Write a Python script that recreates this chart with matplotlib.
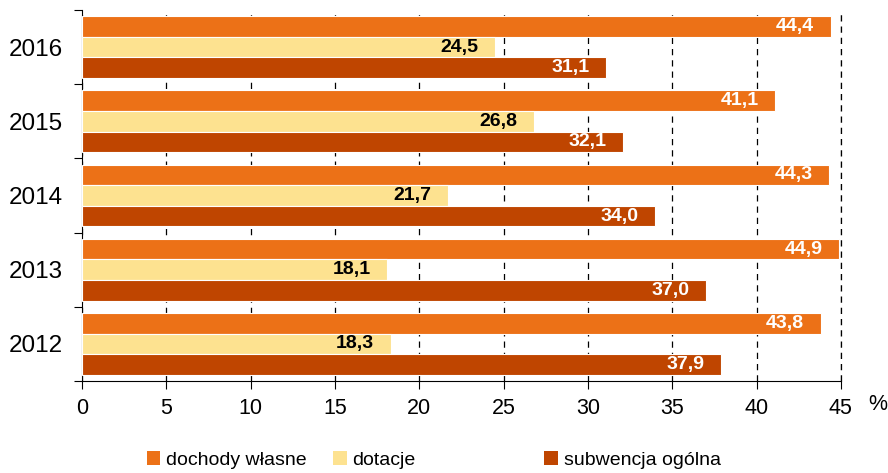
import numpy as np
import matplotlib.pyplot as plt
from matplotlib.patches import Patch

years = ['2012', '2013', '2014', '2015', '2016']
dochody = [43.8, 44.9, 44.3, 41.1, 44.4]
dotacje = [18.3, 18.1, 21.7, 26.8, 24.5]
subwencja = [37.9, 37.0, 34.0, 32.1, 31.1]
series_names = ['dochody własne', 'dotacje', 'subwencja ogólna']
colors = ['#EC7117', '#FDE290', '#BF4500']
label_colors = ['white', 'black', 'white']

plt.rcParams['font.family'] = ['Liberation Sans', 'DejaVu Sans']

fig = plt.figure(figsize=(8.88, 4.73), dpi=100)
ax = fig.add_axes([0.0923, 0.1945, 0.8547, 0.7845])

y = np.arange(len(years))
h = 0.277
offsets = [h, 0, -h]
for vals, off, col, lcol in zip([dochody, dotacje, subwencja], offsets, colors, label_colors):
    bars = ax.barh(y + off, vals, height=h, color=col, edgecolor='white', linewidth=0.8, zorder=3)
    for b, v in zip(bars, vals):
        ax.annotate(f'{v:.1f}'.replace('.', ','), (v, b.get_y() + b.get_height() / 2),
                    xytext=(-12, 0), textcoords='offset points', ha='right', va='center',
                    fontsize=14, fontweight='bold', color=lcol, zorder=4)

ax.set_xlim(0, 45)
ax.set_ylim(-0.5, 4.5)
ax.set_xticks(np.arange(0, 46, 5))
ax.tick_params(axis='x', labelsize=15.5, length=6, direction='out', width=0.8, pad=6)
ax.set_yticks(np.arange(-0.5, 5, 1))
ax.set_yticklabels([])
ax.set_yticks(y, minor=True)
ax.set_yticklabels(years, minor=True, fontsize=17.5)
ax.tick_params(axis='y', which='major', length=6, width=0.8)
ax.tick_params(axis='y', which='minor', length=0, pad=14)

ax.xaxis.grid(True, color='black', linestyle=(0, (5, 4)), linewidth=0.9, zorder=0)
# last grid line sits on the axis edge
ax.axvline(45, color='black', linestyle=(0, (5, 4)), linewidth=0.9, zorder=0, clip_on=False)
ax.set_axisbelow(True)
for s in ['top', 'right']:
    ax.spines[s].set_visible(False)
for s in ['left', 'bottom']:
    ax.spines[s].set_linewidth(0.8)

fig.text(0.988, 0.145, '%', fontsize=15.5, ha='center', va='center')

legend_x = [0.165, 0.375, 0.613]
for name, col, lx in zip(series_names, colors, legend_x):
    fig.legend(handles=[Patch(facecolor=col)], labels=[name], loc='center left',
               bbox_to_anchor=(lx, 0.028), frameon=False, fontsize=14,
               handlelength=0.7, handleheight=0.7, handletextpad=0.3, borderpad=0,
               borderaxespad=0)

fig.savefig('out.png', dpi=100)
